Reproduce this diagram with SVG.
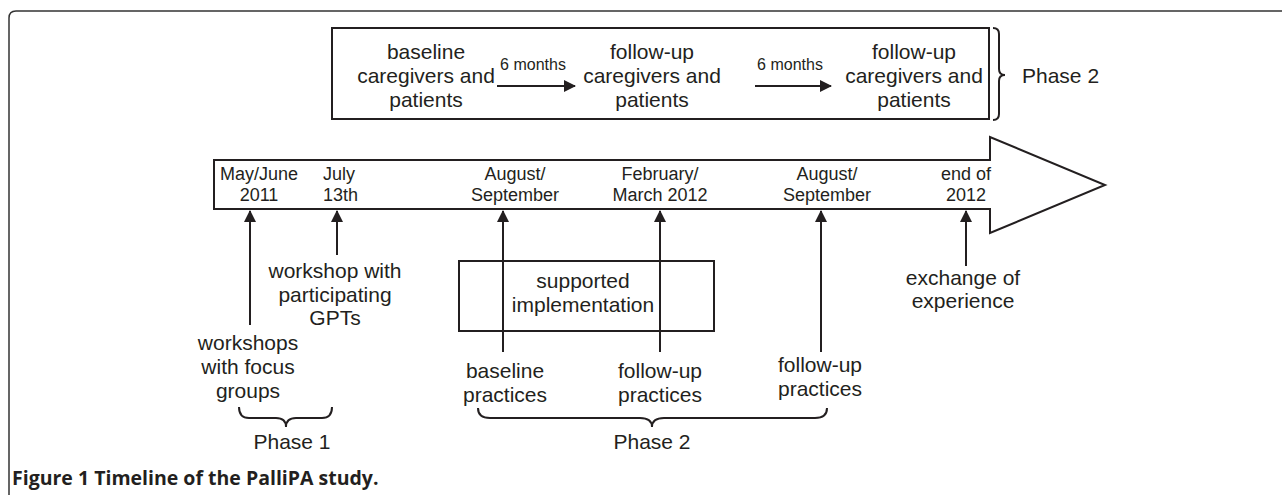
<svg xmlns="http://www.w3.org/2000/svg" width="1282" height="495" viewBox="0 0 1282 495">
<style>
text{font-family:"Liberation Sans",Arial,sans-serif;fill:#231f20}
.t{font-size:21px;text-anchor:middle}
.d{font-size:18px;text-anchor:middle}
.s{font-size:16px;text-anchor:middle}
.ln{fill:none;stroke:#231f20;stroke-width:2}
.br{fill:none;stroke:#231f20;stroke-width:2}
.cap{font-family:"Open Sans","Noto Sans",sans-serif;font-weight:bold;font-size:19.5px}
</style>
<defs>
<marker id="ah" markerWidth="12" markerHeight="12" refX="11" refY="6" orient="auto" markerUnits="userSpaceOnUse">
<path d="M0,0 L12,6 L0,12 Z" fill="#231f20"/>
</marker>
</defs>
<path d="M9,495 L9,18 Q9,11 16,11 L1282,11" fill="none" stroke="#333" stroke-width="1.5"/>

<g id="phase2-box">
<rect x="332" y="28" width="657" height="91" class="ln"/>
<g id="baseline-cg"><text class="t" x="426" y="59">baseline</text><text class="t" x="426" y="83">caregivers and</text><text class="t" x="426" y="107">patients</text></g>
<g id="followup1-cg"><text class="t" x="652" y="59">follow-up</text><text class="t" x="652" y="83">caregivers and</text><text class="t" x="652" y="107">patients</text></g>
<g id="followup2-cg"><text class="t" x="914" y="59">follow-up</text><text class="t" x="914" y="83">caregivers and</text><text class="t" x="914" y="107">patients</text></g>
<text class="s" x="533" y="70">6 months</text>
<text class="s" x="790" y="70">6 months</text>
</g>
<g id="phase2-top-brace">
<path class="br" d="M993,28 Q999,28 999,34 L999,69 Q999,75 1005,75 Q999,75 999,81 L999,114 Q999,120 993,120"/>
<text x="1022" y="83" style="font-size:21px">Phase 2</text>
</g>

<g id="timeline">
<path d="M214,160 L990,160 L990,137 L1105,185 L990,233 L990,209 L214,209 Z" fill="#fff" stroke="#231f20" stroke-width="2"/>
<text class="d" x="259" y="180">May/June</text><text class="d" x="259" y="201">2011</text>
<text x="323" y="180" style="font-size:18px">July</text><text x="323" y="201" style="font-size:18px">13th</text>
<text class="d" x="515" y="180">August/</text><text class="d" x="515" y="201">September</text>
<text class="d" x="660" y="180">February/</text><text class="d" x="660" y="201">March 2012</text>
<text class="d" x="827" y="180">August/</text><text class="d" x="827" y="201">September</text>
<text class="d" x="966" y="180">end of</text><text class="d" x="966" y="201">2012</text>
</g>

<g id="implementation">
<rect x="459" y="261" width="255" height="70" class="ln"/>
<text class="t" x="583" y="288">supported</text>
<text class="t" x="583" y="312">implementation</text>
</g>

<g id="connectors">
<line class="ln" x1="250" y1="325" x2="250" y2="211" marker-end="url(#ah)"/>
<line class="ln" x1="337" y1="255" x2="337" y2="211" marker-end="url(#ah)"/>
<line class="ln" x1="503" y1="352" x2="503" y2="211" marker-end="url(#ah)"/>
<line class="ln" x1="660" y1="352" x2="660" y2="211" marker-end="url(#ah)"/>
<line class="ln" x1="821" y1="352" x2="821" y2="211" marker-end="url(#ah)"/>
<line class="ln" x1="966" y1="266" x2="966" y2="211" marker-end="url(#ah)"/>
<line class="ln" x1="497" y1="86" x2="575" y2="86" marker-end="url(#ah)"/>
<line class="ln" x1="755" y1="86" x2="831" y2="86" marker-end="url(#ah)"/>
</g>

<g id="workshop-gpts"><text class="t" x="335" y="278">workshop with</text><text class="t" x="335" y="302">participating</text><text class="t" x="335" y="325">GPTs</text></g>
<g id="workshops-focus"><text class="t" x="248" y="350">workshops</text><text class="t" x="248" y="374">with focus</text><text class="t" x="248" y="398">groups</text></g>
<g id="baseline-practices"><text class="t" x="505" y="378">baseline</text><text class="t" x="505" y="402">practices</text></g>
<g id="followup-practices1"><text class="t" x="660" y="378">follow-up</text><text class="t" x="660" y="402">practices</text></g>
<g id="followup-practices2"><text class="t" x="820" y="372">follow-up</text><text class="t" x="820" y="396">practices</text></g>
<g id="exchange"><text class="t" x="963" y="285">exchange of</text><text class="t" x="963" y="308">experience</text></g>

<g id="phase1-brace">
<path class="br" d="M239,407 Q239,418 249,418 L276,418 Q286,418 286,427 Q286,418 296,418 L322,418 Q332,418 332,407"/>
<text class="t" x="292" y="449">Phase 1</text>
</g>
<g id="phase2-brace">
<path class="br" d="M478,408 Q478,418 490,418 L640,418 Q652,418 652,427 Q652,418 664,418 L815,418 Q827,418 827,408"/>
<text class="t" x="652" y="449">Phase 2</text>
</g>

<text class="cap" x="12" y="485">Figure 1 Timeline of the PalliPA study.</text>
</svg>
